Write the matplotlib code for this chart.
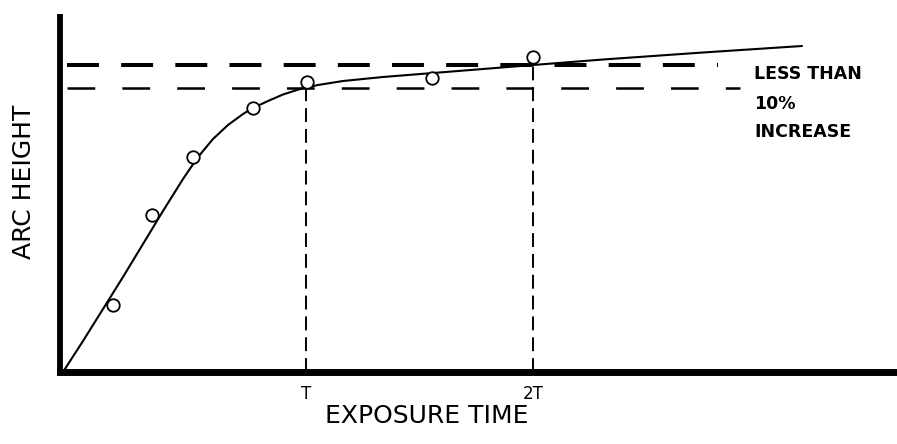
import matplotlib
matplotlib.use("Agg")
import matplotlib.pyplot as plt

# Exposure time / arc height in arbitrary units (T = 243 on this scale)
curve_time = [0, 20, 40, 60, 80, 100, 120, 135, 150, 165, 180, 190, 205,
              220, 237, 255, 280, 320, 370, 420, 470, 540, 640, 739]
curve_height = [0, 31, 63, 95, 128, 161, 193, 215, 233, 247, 258, 264, 271,
                277.5, 283, 287, 291, 295, 299, 303, 307, 312.5, 319.5, 326]

point_time = [50, 89, 130, 190, 244, 369, 470]
point_height = [67, 157, 215, 264, 290, 294, 315]

t_ticks = [243, 470]
t_labels = ["T", "2T"]

level_T = 284      # arc height reached at time T
level_2T = 307     # arc height reached at time 2T
level_span = [(4, 677), (4, 655)]

note_lines = ["LESS THAN", "10%", "INCREASE"]

plt.rcParams["lines.scale_dashes"] = False
plt.rcParams["font.family"] = ["DejaVu Sans"]

W, H = 897, 444
fig = plt.figure(figsize=(W / 100, H / 100), dpi=100)
ax = fig.add_axes([60 / W, (H - 372) / H, (W - 60) / W, (372 - 14) / H])
ax.set_xlim(-3, 834)
ax.set_ylim(0, 358)

for side in ("top", "right"):
    ax.spines[side].set_visible(False)
ax.spines["left"].set_linewidth(4.2)
ax.spines["bottom"].set_linewidth(5.0)
ax.spines["left"].set_capstyle("butt")
ax.set_yticks([])
ax.set_xticks(t_ticks)
ax.set_xticklabels(t_labels, fontsize=12)
ax.tick_params(axis="x", length=0, pad=9)

# reference levels
ax.plot(level_span[0], [level_T, level_T], color="black", lw=1.8,
        dashes=(20, 19.5), dash_capstyle="butt")
ax.plot(level_span[1], [level_2T, level_2T], color="black", lw=2.9,
        dashes=(23, 16), dash_capstyle="butt")

# drop lines at T and 2T
ax.plot([t_ticks[0], t_ticks[0]], [0, level_T], color="black", lw=1.4,
        dashes=(10, 5), dash_capstyle="butt")
ax.plot([t_ticks[1], t_ticks[1]], [0, level_2T], color="black", lw=1.4,
        dashes=(10, 5), dash_capstyle="butt")

ax.plot(curve_time, curve_height, color="black", lw=1.5,
        solid_capstyle="round", solid_joinstyle="round")
ax.plot(point_time, point_height, linestyle="none", marker="o",
        markersize=9, markerfacecolor="white", markeredgecolor="black",
        markeredgewidth=1.3, zorder=5)

for text, y in zip(note_lines, [298, 268, 240]):
    ax.text(691, y, text, fontsize=12.5, fontweight="bold", ha="left",
            va="center")

fig.text(427 / W, 1 - 416 / H, "EXPOSURE TIME", fontsize=18,
         ha="center", va="center")
fig.text(24 / W, 1 - 182 / H, "ARC HEIGHT", fontsize=18, rotation=90,
         ha="center", va="center")

fig.savefig("out.png", dpi=100)
